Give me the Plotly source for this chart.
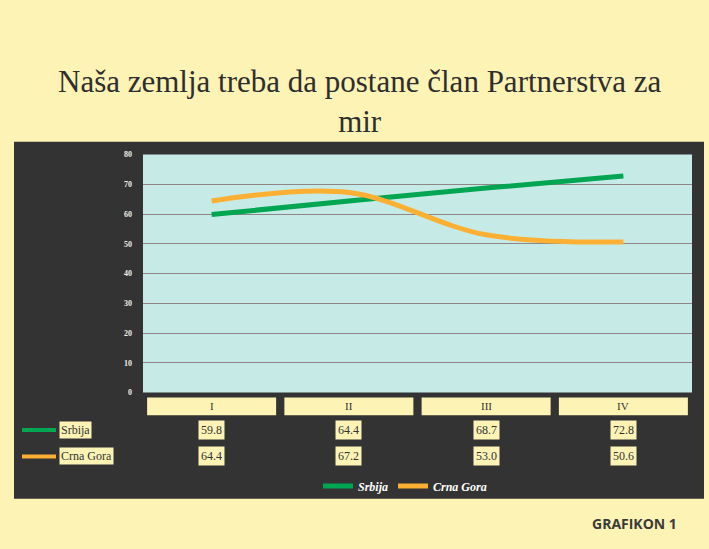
import plotly.graph_objects as go

categories = ["I", "II", "III", "IV"]
srbija = [59.8, 64.4, 68.7, 72.8]
crna_gora = [64.4, 67.2, 53.0, 50.6]
y_ticks = [0, 10, 20, 30, 40, 50, 60, 70, 80]
series_names = ["Srbija", "Crna Gora"]

W, H = 709, 549
YELLOW = "#fdf3b5"
DARK = "#333333"
CYAN = "#c6ebe6"
GREEN = "#00a651"
ORANGE = "#fbb034"

def px(xv):
    return xv / W

def py(yv):
    return 1 - yv / H

xpos = list(range(len(categories)))

fig = go.Figure()
fig.add_trace(go.Scatter(x=xpos, y=srbija, mode="lines", name=series_names[0],
                         line=dict(color=GREEN, width=5, shape="spline", smoothing=1)))
fig.add_trace(go.Scatter(x=xpos, y=crna_gora, mode="lines", name=series_names[1],
                         line=dict(color=ORANGE, width=5, shape="spline", smoothing=1)))

shapes = []
# dark chart area
shapes.append(dict(type="rect", xref="paper", yref="paper", x0=px(14), x1=px(704),
                   y0=py(503), y1=py(140), fillcolor=DARK, line=dict(width=0), layer="below"))
# plot area background
shapes.append(dict(type="rect", xref="paper", yref="paper", x0=px(143), x1=px(692),
                   y0=py(395), y1=py(153), fillcolor=CYAN, line=dict(width=0), layer="below"))
# category header cells
for i in xpos:
    shapes.append(dict(type="rect", xref="x", yref="paper", x0=i - 0.47, x1=i + 0.47,
                       y0=py(418), y1=py(400), fillcolor=YELLOW, line=dict(width=0)))
# row keys
shapes.append(dict(type="line", xref="paper", yref="paper", x0=px(22), x1=px(56),
                   y0=py(433), y1=py(433), line=dict(color=GREEN, width=4)))
shapes.append(dict(type="line", xref="paper", yref="paper", x0=px(22), x1=px(56),
                   y0=py(460), y1=py(460), line=dict(color=ORANGE, width=4)))

annotations = []
annotations.append(dict(text="Naša zemlja treba da postane član Partnerstva za<br>mir",
                        xref="paper", yref="paper", x=px(360), y=py(99),
                        xanchor="center", yanchor="middle", showarrow=False,
                        font=dict(family="Liberation Serif", size=31, color="#2e2e2e")))
for i, c in enumerate(categories):
    annotations.append(dict(text=c, xref="x", yref="paper", x=i, y=py(409),
                            xanchor="center", yanchor="middle", showarrow=False,
                            font=dict(family="Liberation Serif", size=11, color="#333")))
for row_y, name, vals in [(433, series_names[0], srbija), (460, series_names[1], crna_gora)]:
    annotations.append(dict(text=name, xref="paper", yref="paper", x=px(59), y=py(row_y),
                            xanchor="left", yanchor="middle", showarrow=False,
                            bgcolor=YELLOW, borderpad=1,
                            font=dict(family="Liberation Serif", size=12, color="#333")))
    for i, v in enumerate(vals):
        annotations.append(dict(text=f"{v:.1f}", xref="x", yref="paper", x=i, y=py(row_y),
                                xanchor="center", yanchor="middle", showarrow=False,
                                bgcolor=YELLOW, borderpad=2,
                                font=dict(family="Liberation Serif", size=12, color="#333")))
annotations.append(dict(text="<b>GRAFIKON 1</b>", xref="paper", yref="paper",
                        x=px(679), y=py(528), xanchor="right", yanchor="middle",
                        showarrow=False,
                        font=dict(family="Open Sans", size=14, color="#3a3a3a")))

fig.update_layout(
    width=W, height=H,
    margin=dict(l=0, r=0, t=0, b=0),
    paper_bgcolor=YELLOW,
    plot_bgcolor=CYAN,
    shapes=shapes,
    annotations=annotations,
    showlegend=True,
    legend=dict(orientation="h", x=px(405), y=py(490), xanchor="center", yanchor="middle",
                bgcolor="rgba(0,0,0,0)",
                font=dict(family="Liberation Serif", size=12, color="white",
                          style="italic", weight="bold")),
    xaxis=dict(domain=[px(143), px(692)], range=[-0.5, 3.5], showticklabels=False,
               showgrid=False, zeroline=False, fixedrange=True),
    yaxis=dict(domain=[py(395), py(153)], range=[0, 80], tickvals=y_ticks,
               showgrid=True, gridcolor="#8e8686", gridwidth=1, zeroline=False,
               tickfont=dict(family="Liberation Serif", size=8, color="#eeeeee", weight="bold"),
               ticks="", ticklabelstandoff=10),
)

fig.write_html("out.html", config={"displayModeBar": False},
               post_script="document.body.style.margin='0';document.body.style.overflow='hidden';")
